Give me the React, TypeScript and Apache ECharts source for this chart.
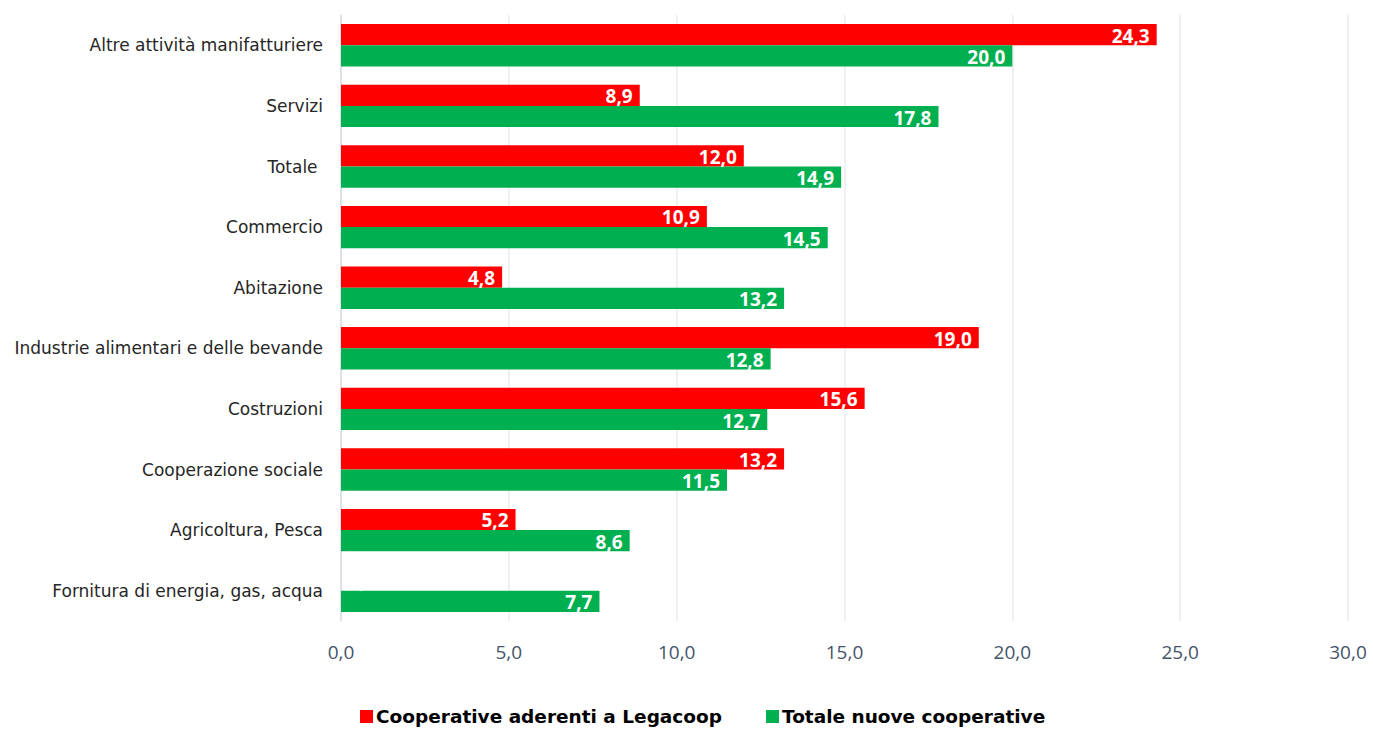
import React, { useEffect, useRef } from "react";
import * as echarts from "echarts";

const categories = [
  "Altre attività manifatturiere",
  "Servizi",
  "Totale ",
  "Commercio",
  "Abitazione",
  "Industrie alimentari e delle bevande",
  "Costruzioni",
  "Cooperazione sociale",
  "Agricoltura, Pesca",
  "Fornitura di energia, gas, acqua",
];
const legacoop = [24.3, 8.9, 12.0, 10.9, 4.8, 19.0, 15.6, 13.2, 5.2, 0.0];
const totaleNuove = [20.0, 17.8, 14.9, 14.5, 13.2, 12.8, 12.7, 11.5, 8.6, 7.7];
const seriesNames = ["Cooperative aderenti a Legacoop", "Totale nuove cooperative"];
const xTicks = { min: 0, max: 30, interval: 5 };

const fmt = (v: number) => v.toFixed(1).replace(".", ",");

export default function App() {
  const ref = useRef<HTMLDivElement>(null);
  useEffect(() => {
    if (!ref.current) return;
    const chart = echarts.init(ref.current, undefined, { renderer: "svg" });
    const label = {
      show: true,
      position: "insideRight" as const,
      color: "#ffffff",
      fontFamily: "Open Sans",
      fontWeight: "bold" as const,
      fontSize: 19,
      offset: [-2, 1],
      formatter: (p: any) => fmt(p.value),
    };
    chart.setOption({
      animation: false,
      grid: { left: 341, right: 25, top: 15, bottom: 110, containLabel: false },
      legend: {
        bottom: 0,
        left: 355,
        itemWidth: 13,
        itemHeight: 13,
        itemGap: 44,
        icon: "rect",
        textStyle: {
          fontFamily: "DejaVu Sans",
          fontWeight: "bold",
          fontSize: 18.5,
          color: "#000000",
          padding: [0, 0, 0, -2],
        },
        data: seriesNames,
      },
      xAxis: {
        type: "value",
        min: xTicks.min,
        max: xTicks.max,
        interval: xTicks.interval,
        axisLabel: {
          formatter: (v: number) => fmt(v),
          fontFamily: "Open Sans",
          fontSize: 19,
          color: "#44546a",
          margin: 21,
        },
        axisLine: { show: false },
        axisTick: { show: false },
        splitLine: { show: true, lineStyle: { color: "#ebebeb", width: 1.5 } },
      },
      yAxis: {
        type: "category",
        inverse: true,
        data: categories,
        axisLine: { show: true, lineStyle: { color: "#d9dee6", width: 1.5 } },
        axisTick: { show: false },
        axisLabel: {
          fontFamily: "DejaVu Sans",
          fontSize: 17,
          color: "#262626",
          margin: 18,
        },
      },
      series: [
        {
          name: seriesNames[0],
          type: "bar",
          data: legacoop.map((v) => (v === 0 ? { value: v, label: { position: "insideLeft", offset: [2, 1] } } : v)),
          itemStyle: { color: "#ff0000" },
          barGap: "0%",
          barCategoryGap: "30%",
          label,
        },
        {
          name: seriesNames[1],
          type: "bar",
          data: totaleNuove,
          itemStyle: { color: "#00b050" },
          barGap: "0%",
          barCategoryGap: "30%",
          label,
        },
      ],
    });
    return () => chart.dispose();
  }, []);
  return <div ref={ref} style={{ width: 1373, height: 731, position: "absolute", left: 0, top: 0 }} />;
}
